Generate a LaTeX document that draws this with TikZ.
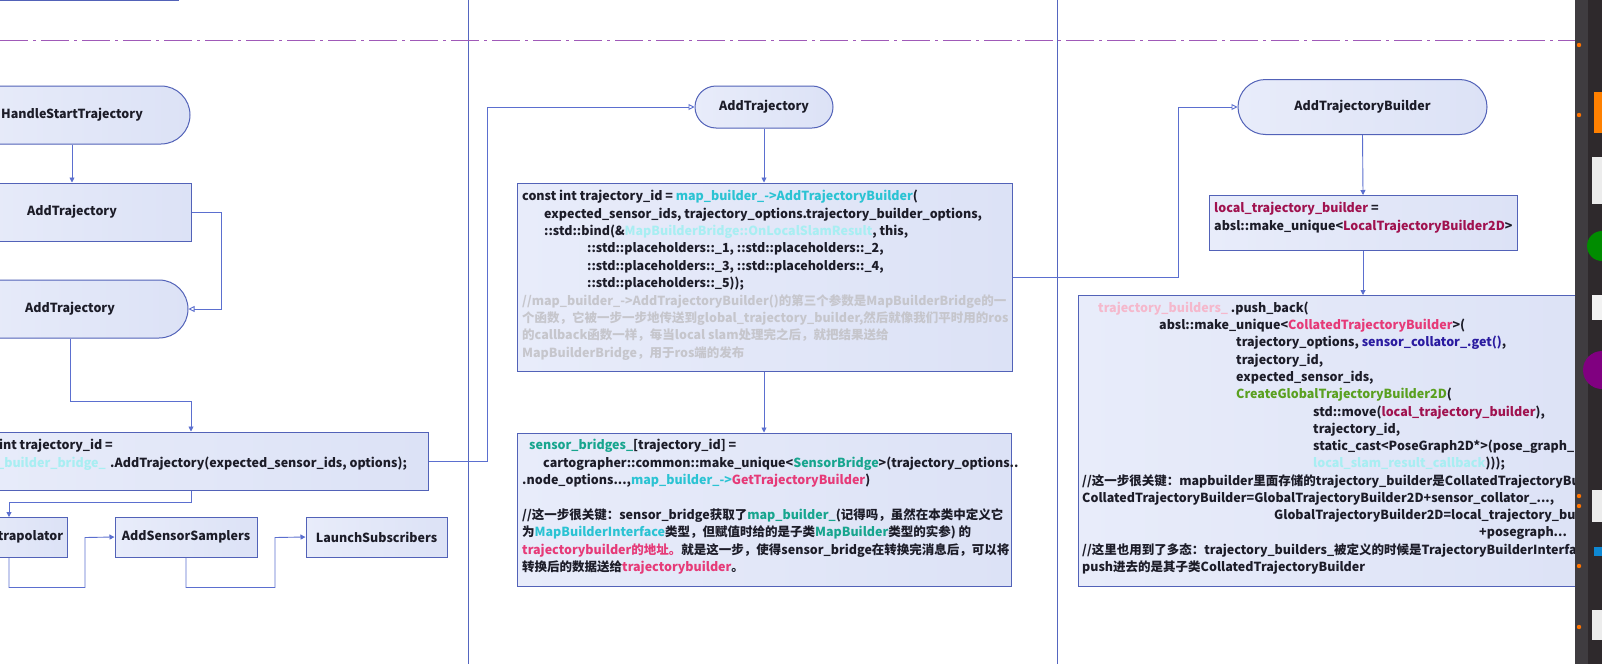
\documentclass[tikz,border=0pt]{standalone}
\usepackage{fontspec}
\setmainfont{Noto Sans CJK SC}
\usetikzlibrary{arrows.meta,shapes.misc,calc}
\definecolor{bordc}{HTML}{5262B8}
\definecolor{connc}{HTML}{5B6FCF}
\definecolor{boxl}{HTML}{E8ECFA}
\definecolor{boxr}{HTML}{DCE2F6}
\definecolor{lanec}{HTML}{5566C0}
\definecolor{dashc}{HTML}{A05AB8}
\definecolor{textc}{HTML}{1C1C28}
\definecolor{cyanc}{HTML}{2BC3D3}
\definecolor{cyanblur}{HTML}{A8EEF2}
\definecolor{tealc}{HTML}{17A58E}
\definecolor{pinkc}{HTML}{E63A78}
\definecolor{maroonc}{HTML}{A0124F}
\definecolor{navyc}{HTML}{2A1BA0}
\definecolor{greenc}{HTML}{5AA020}
\definecolor{grayc}{HTML}{C6C6CC}
\definecolor{pinkfaint}{HTML}{F5B8CC}
\definecolor{dockc}{HTML}{2E292C}
\definecolor{dockl}{HTML}{3F3C40}
\newcommand\firstl{\rule{0pt}{13pt}}
\tikzset{
  box/.style={draw=bordc, line width=1pt, left color=boxl, right color=boxr, rectangle, inner sep=0pt},
  stad/.style={box, rounded rectangle},
  conn/.style={draw=connc, line width=0.9pt},
  arr/.style={-{Triangle[length=5pt,width=5pt]}},
  oarr/.style={-{Triangle[open,length=6pt,width=6pt]}},
  lbl/.style={font=\fontsize{12.5}{17.4}\selectfont\bfseries, text=textc},
  code/.style={inner sep=0pt, align=left, anchor=base west, text=textc, font=\fontsize{12.5}{17.4}\selectfont\bfseries},
  mcode/.style={code, anchor=north west},
  lane/.style={draw=lanec, line width=1pt}
}
\begin{document}
\begin{tikzpicture}[x=1pt,y=-1pt]
\useasboundingbox (0,0) rectangle (1602,664);
\clip (0,0) rectangle (1602,664);
\fill[white] (0,0) rectangle (1602,664);
% lanes
\draw[lane] (468,0) -- (468,664);
\draw[lane] (1057,0) -- (1057,664);
\draw[draw=dashc, line width=0.9pt, dash pattern=on 28pt off 5pt on 3pt off 5pt] (0,40) -- (1575,40);
% top-left cut box
\node[box, minimum width=200pt, minimum height=30pt, anchor=south east] (topbox) at (179,1) {};
% left column
\node[stad, minimum width=236pt, minimum height=58pt, lbl] (hst) at (72,115) {HandleStartTrajectory};
\node[box, minimum width=238pt, minimum height=58pt, lbl] (at1) at (72,212) {AddTrajectory};
\node[stad, minimum width=236pt, minimum height=58pt, lbl] (at2) at (70,309) {AddTrajectory};
\node[box, minimum width=470pt, minimum height=58pt, anchor=east] (big) at (429,461) {};
\node[code, anchor=base east] (bl1) at (113,449.5) {const int trajectory\_id =};
\node[code, anchor=base east, text=cyanblur] (bl2a) at (106,467.5) {map\_builder\_bridge\_};
\node[code] (bl2b) at (110,467.5) {.AddTrajectory(expected\_sensor\_ids, options);};
\node[box, minimum width=112pt, minimum height=40pt, lbl] (ext) at (11,537) {AddExtrapolator};
\node[box, minimum width=142pt, minimum height=40pt, lbl] (ass) at (186,537) {AddSensorSamplers};
\node[box, minimum width=141pt, minimum height=40pt, lbl] (ls) at (376.5,537) {LaunchSubscribers};
\draw[conn,arr] (hst.south) -- (at1.north);
\draw[conn,oarr] (at1.east) -- ++(30,0) |- (at2.east);
\coordinate (bigin) at ($(big.north east)+(-238,0)$);
\draw[conn,arr] (at2.south) -- ++(0,63) -| (bigin);
\coordinate (extin) at (9,517);
\draw[conn,arr] ($(big.south east)+(-238,0)$) -- ++(0,12) -| (extin);
\draw[conn,arr] ($(ext.south)+(-2,0)$) -- ++(0,30) -| ++(76,-50) -- (ass.west);
\draw[conn,arr] (ass.south) -- ++(0,30) -| ++(89,-50) -- (ls.west);
% middle column
\node[stad, minimum width=138pt, minimum height=42pt, lbl] (mat) at (764,107) {AddTrajectory};
\node[box, minimum width=495pt, minimum height=188pt] (mcode) at (764.5,277) {};
\node[box, minimum width=494pt, minimum height=153pt] (msens) at (764,509.5) {};
\draw[conn,oarr] (big.east) -- ++(58,0) |- (mat.west);
\draw[conn,arr] (mat.south) -- (mat.south |- mcode.north);
\draw[conn,arr] (mcode.south -| mat.south) -- (mat.south |- msens.north);
\node[mcode] (mctxt) at (522,187.5) {\firstl const int trajectory\_id = \textcolor{cyanc}{map\_builder\_->AddTrajectoryBuilder}(\\
\hspace*{22pt}expected\_sensor\_ids, trajectory\_options.trajectory\_builder\_options,\\
\hspace*{22pt}::std::bind(\&\textcolor{cyanblur}{MapBuilderBridge::OnLocalSlamResult}, this,\\
\hspace*{65pt}::std::placeholders::\_1, ::std::placeholders::\_2,\\
\hspace*{65pt}::std::placeholders::\_3, ::std::placeholders::\_4,\\
\hspace*{65pt}::std::placeholders::\_5));\\
\textcolor{grayc}{//map\_builder\_->AddTrajectoryBuilder()的第三个参数是MapBuilderBridge的一}\\
\textcolor{grayc}{个函数，它被一步一步地传送到global\_trajectory\_builder,然后就像我们平时用的ros}\\
\textcolor{grayc}{的callback函数一样，每当local slam处理完之后，就把结果送给}\\
\textcolor{grayc}{MapBuilderBridge，用于ros端的发布}};
\node[mcode] (mstxt) at (522,436.5) {\firstl\hspace*{7pt}\textcolor{tealc}{sensor\_bridges\_}[trajectory\_id] =\\
\hspace*{21pt}cartographer::common::make\_unique<\textcolor{tealc}{SensorBridge}>(trajectory\_options..\\
.node\_options...,\textcolor{cyanc}{map\_builder\_->}\textcolor{pinkc}{GetTrajectoryBuilder})\\[17.4pt]
//这一步很关键：sensor\_bridge获取了\textcolor{tealc}{map\_builder\_}(记得吗，虽然在本类中定义它\\
为\textcolor{cyanc}{MapBuilderInterface}类型，但赋值时给的是子类\textcolor{tealc}{MapBuilder}类型的实参) 的\\
\textcolor{pinkc}{trajectorybuilder的地址。}就是这一步，使得sensor\_bridge在转换完消息后，可以将\\
转换后的数据送给\textcolor{pinkc}{trajectorybuilder}。};
% right column
\node[stad, minimum width=249pt, minimum height=55pt, lbl] (atb) at (1362.5,107) {AddTrajectoryBuilder};
\node[box, minimum width=308pt, minimum height=55pt] (loc) at (1363,223) {};
\node[box, minimum width=530pt, minimum height=291pt, anchor=north west] (rbig) at (1078,295) {};
\draw[conn,oarr] (mcode.east) -- ++(166,0) |- (atb.west);
\draw[conn,arr] (atb.south) -- (loc.north);
\draw[conn,arr] (loc.south) -- (loc.south |- rbig.north);
\node[mcode, font=\fontsize{12.5}{18}\selectfont\bfseries] (ltxt) at (1214,199.5) {\firstl\textcolor{maroonc}{local\_trajectory\_builder} =\\
absl::make\_unique<\textcolor{maroonc}{LocalTrajectoryBuilder2D}>};
\node[mcode, font=\fontsize{12.5}{17.27}\selectfont\bfseries] (rtxt) at (1082,299.2) {\firstl\hspace*{16pt}\textcolor{pinkfaint}{trajectory\_builders\_} .push\_back(\\
\hspace*{77pt}absl::make\_unique<\textcolor{pinkc}{CollatedTrajectoryBuilder}>(\\
\hspace*{154pt}trajectory\_options, \textcolor{navyc}{sensor\_collator\_.get()},\\
\hspace*{154pt}trajectory\_id,\\
\hspace*{154pt}expected\_sensor\_ids,\\
\hspace*{154pt}\textcolor{greenc}{CreateGlobalTrajectoryBuilder2D}(\\
\hspace*{231pt}std::move(\textcolor{maroonc}{local\_trajectory\_builder}),\\
\hspace*{231pt}trajectory\_id,\\
\hspace*{231pt}static\_cast<PoseGraph2D*>(pose\_graph\_.get()),\\
\hspace*{231pt}\textcolor{cyanblur}{local\_slam\_result\_callback})));\\
//这一步很关键：mapbuilder里面存储的trajectory\_builder是CollatedTrajectoryBuilder\\
CollatedTrajectoryBuilder=GlobalTrajectoryBuilder2D+sensor\_collator\_...,\\
\hspace*{192pt}GlobalTrajectoryBuilder2D=local\_trajectory\_builder\\
\hspace*{397pt}+posegraph...\\
//这里也用到了多态：trajectory\_builders\_被定义的时候是TrajectoryBuilderInterface\\
push进去的是其子类CollatedTrajectoryBuilder};
% dock
\fill[dockc] (1575,0) rectangle (1602,664);
\fill[dockl] (1575,0) rectangle (1588,664);
\fill[orange] (1594,92) rectangle (1602,133);
\fill[white!85!gray] (1592,157) rectangle (1602,204);
\fill[green!55!black] (1602,246) circle (15pt);
\fill[white!90!gray] (1592,295) rectangle (1602,320);
\fill[violet] (1602,370) circle (19pt);
\fill[white!85!gray] (1592,490) rectangle (1602,522);
\fill[cyan!70!blue] (1594,547) rectangle (1602,556);
\fill[white!85!gray] (1592,610) rectangle (1602,640);
\foreach \yy in {45,115,496,506,566,627} \fill[orange!90!red] (1579,\yy) circle (2.2pt);
\end{tikzpicture}
\end{document}
